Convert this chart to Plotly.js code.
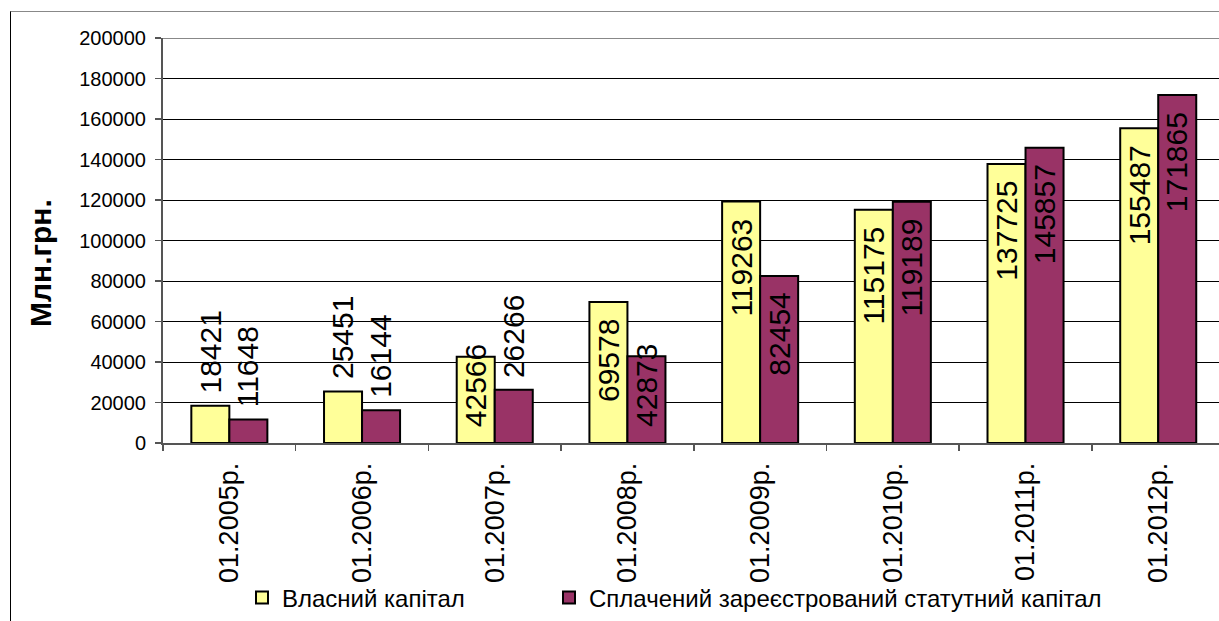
<!DOCTYPE html>
<html>
<head>
<meta charset="utf-8">
<script src="https://cdn.plot.ly/plotly-3.0.1.min.js"></script>
<style>
  html, body { margin: 0; padding: 0; background: #fff; }
  #wrap { position: relative; width: 1219px; height: 621px; overflow: hidden; }
  #chart { width: 1219px; height: 621px; }
  #frame { position: absolute; left: 10px; top: 11px; width: 1300px; height: 700px;
           border-left: 1.5px solid #000; border-top: 1.5px solid #888; pointer-events: none; }
</style>
</head>
<body>
<div id="wrap">
  <div id="chart"></div>
  <div id="frame"></div>
</div>
<script>
// ---- data ----
const categories = ["01.2005р.", "01.2006р.", "01.2007р.", "01.2008р.", "01.2009р.", "01.2010р.", "01.2011р.", "01.2012р."];
const ownCapital = [18421, 25451, 42566, 69578, 119263, 115175, 137725, 155487];
const paidCapital = [11648, 16144, 26266, 42873, 82454, 119189, 145857, 171865];
const seriesNames = ["Власний капітал", "Сплачений зареєстрований статутний капітал"];
const yTicks = [0, 20000, 40000, 60000, 80000, 100000, 120000, 140000, 160000, 180000, 200000];

// ---- layout constants ----
const W = 1219, H = 621;
const mL = 163, mT = 38, mB = 178, mR = 0;
const plotH = H - mT - mB;
const yMax = 200000;
const bargap = 0.427;
const labelFont = 30;
const FONT = "Liberation Sans, Arial, sans-serif";

const colors = ["#FFFF99", "#993366"];
const legendIds = ["legend", "legend2"];

const traces = [ownCapital, paidCapital].map((vals, i) => ({
  type: "bar",
  name: seriesNames[i],
  legend: legendIds[i],
  x: categories,
  y: vals,
  marker: { color: colors[i], line: { color: "#000", width: 2 } },
  hoverinfo: "x+y"
}));

// data labels (Excel-like "inside end" with rotated text)
const pxPerUnit = plotH / yMax;
const halfBar = (1 - bargap) / 4;
const annotations = [];
[ownCapital, paidCapital].forEach((vals, s) => {
  vals.forEach((v, i) => {
    const txt = String(v);
    const L = txt.length * 0.556 * labelFont;
    const h = v * pxPerUnit;
    let a = { x: i + (s === 0 ? -halfBar : halfBar), xref: "x", yref: "y",
              text: txt, showarrow: false, textangle: -90,
              font: { family: FONT, size: labelFont, color: "#000" }, xanchor: "center" };
    if (h < L) {
      a.y = v; a.yanchor = "bottom"; a.yshift = 10;
    } else if (h - 17 - L >= 15) {
      a.y = v; a.yanchor = "top"; a.yshift = -15;
    } else {
      a.y = 0; a.yanchor = "bottom"; a.yshift = 14;
    }
    annotations.push(a);
  });
});

// y axis title
annotations.push({
  text: "<b>Млн.грн.</b>", showarrow: false, textangle: -90,
  xref: "paper", yref: "paper",
  x: (40 - mL) / (W - mL - mR), y: (H - mB - 263) / plotH,
  xanchor: "center", yanchor: "middle",
  font: { family: FONT, size: 30, color: "#000" }
});

const legendBase = {
  orientation: "h", xref: "container", yref: "container",
  y: 1 - 598 / H, xanchor: "left", yanchor: "middle",
  font: { family: FONT, size: 24, color: "#000" },
  bgcolor: "rgba(0,0,0,0)"
};

const layout = {
  width: W, height: H,
  margin: { l: mL, r: mR, t: mT, b: mB, pad: 0 },
  paper_bgcolor: "#fff", plot_bgcolor: "#fff",
  barmode: "group", bargap: bargap, bargroupgap: 0,
  font: { family: FONT, color: "#000" },
  showlegend: true,
  legend: Object.assign({}, legendBase, { x: 242 / W }),
  legend2: Object.assign({}, legendBase, { x: 549 / W }),
  xaxis: {
    type: "category",
    range: [-0.5, 7.458],
    tickangle: -90,
    ticks: "outside", ticklen: 6, tickwidth: 1.5, tickcolor: "#555",
    tickson: "boundaries",
    ticklabelstandoff: 7,
    showline: true, linecolor: "#555", linewidth: 2,
    showgrid: false, zeroline: false,
    tickfont: { family: FONT, size: 27, color: "#000" },
    fixedrange: true
  },
  yaxis: {
    range: [0, yMax],
    tickvals: yTicks,
    ticktext: yTicks.map(String),
    ticks: "outside", ticklen: 6, tickwidth: 1.5, tickcolor: "#555",
    ticklabelstandoff: 5,
    showline: true, linecolor: "#555", linewidth: 2,
    showgrid: true, gridcolor: "#000", gridwidth: 1,
    zeroline: false,
    tickfont: { family: FONT, size: 20, color: "#000" },
    fixedrange: true
  },
  shapes: [{
    type: "line", xref: "paper", yref: "y", x0: 0, x1: 1, y0: yMax, y1: yMax,
    line: { color: "#888", width: 2 }
  }],
  annotations: annotations
};

Plotly.newPlot("chart", traces, layout, { displayModeBar: false, staticPlot: true });
</script>
</body>
</html>
